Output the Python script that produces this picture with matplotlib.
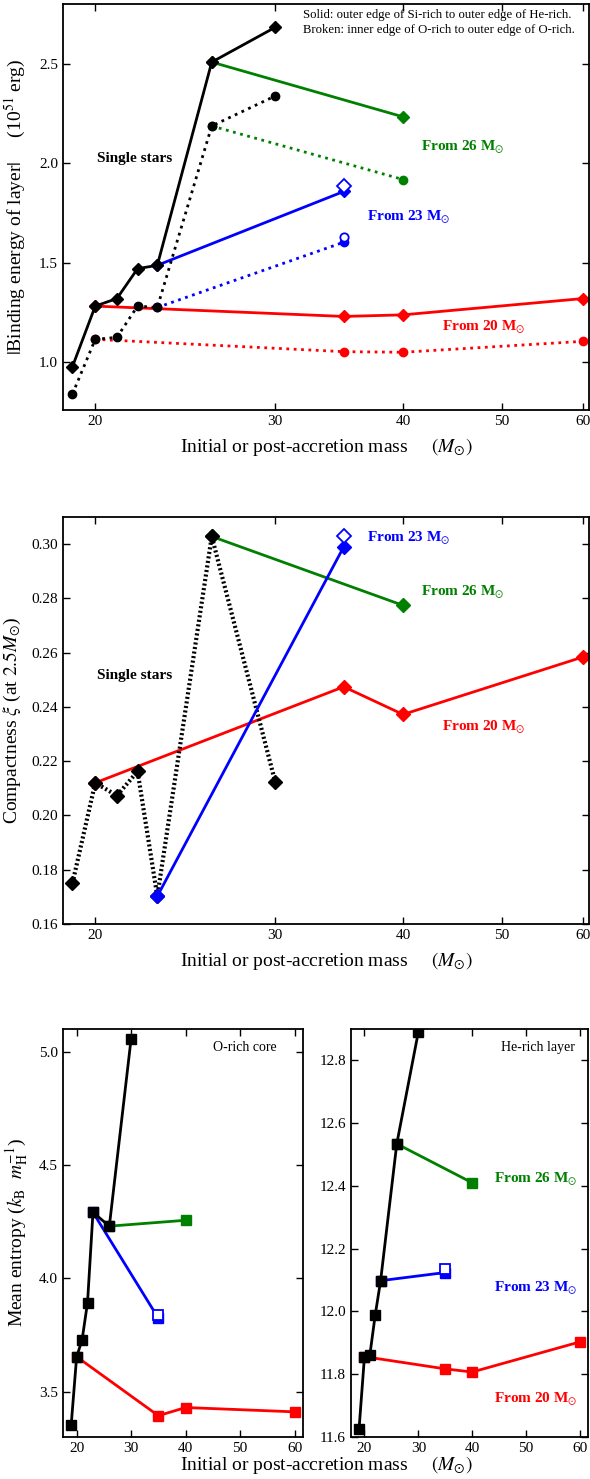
import numpy as np
import matplotlib
matplotlib.use("Agg")
import matplotlib.pyplot as plt
from matplotlib.ticker import FixedLocator, FixedFormatter, NullLocator

plt.rcParams['font.family'] = 'serif'
plt.rcParams['font.serif'] = ['Liberation Serif', 'DejaVu Serif']
plt.rcParams['mathtext.fontset'] = 'stix'
plt.rcParams['xtick.direction'] = 'in'
plt.rcParams['ytick.direction'] = 'in'
plt.rcParams['xtick.top'] = True
plt.rcParams['ytick.right'] = True
plt.rcParams['axes.linewidth'] = 1.3

# Massa bintang tunggal dan massa setelah akresi
single_mass = [19, 20, 21, 22, 23, 26, 30]
from20_mass = [20, 35, 40, 60]
from23_mass = [23, 35]
from26_mass = [26, 40]
open_mass = [35]

# Panel 1: |binding energy| (10^51 erg)
eb_solid_single = [0.978, 1.282, 1.32, 1.47, 1.487, 2.508, 2.683]
eb_broken_single = [0.84, 1.115, 1.125, 1.282, 1.275, 2.187, 2.338]
eb_solid_20 = [1.282, 1.23, 1.238, 1.32]
eb_broken_20 = [1.115, 1.053, 1.05, 1.105]
eb_solid_23 = [1.487, 1.858]
eb_broken_23 = [1.275, 1.603]
eb_solid_23_open = [1.885]
eb_broken_23_open = [1.628]
eb_solid_26 = [2.508, 2.233]
eb_broken_26 = [2.187, 1.918]

# Panel 2: compactness
xi_single = [0.175, 0.212, 0.2073, 0.2162, 0.1702, 0.3028, 0.2122]
xi_20 = [0.212, 0.2474, 0.2372, 0.2584]
xi_23 = [0.1702, 0.299]
xi_23_open = [0.303]
xi_26 = [0.3028, 0.2774]

# Panel 3: entropi O-rich core
so_single = [3.353, 3.654, 3.728, 3.893, 4.291, 4.23, 5.057]
so_20 = [3.654, 3.394, 3.43, 3.411]
so_23 = [4.291, 3.824]
so_23_open = [3.836]
so_26 = [4.23, 4.256]

# Panel 4: entropi He-rich layer
she_single = [11.626, 11.856, 11.861, 11.989, 12.098, 12.534, 12.89]
she_20 = [11.856, 11.817, 11.807, 11.903]
she_23 = [12.098, 12.124]
she_23_open = [12.135]
she_26 = [12.534, 12.41]

mass_ticks = [20, 30, 40, 50, 60]
mass_labels = ['20', '30', '40', '50', '60']
xlabel = r'Initial or post-accretion mass     $\left(M_{\odot}\right)$'
msun = r'$_{\odot}$'

fig = plt.figure(figsize=(5.9, 14.79), dpi=100)

ax1 = fig.add_axes([0.1068, 0.7228, 0.8915, 0.2745])
ax2 = fig.add_axes([0.1068, 0.3753, 0.8915, 0.2752])
ax3 = fig.add_axes([0.1068, 0.0284, 0.4063, 0.2759])
ax4 = fig.add_axes([0.5949, 0.0284, 0.4017, 0.2759])


def log_mass_axis(ax):
    ax.set_xscale('log')
    ax.set_xlim(18.6, 60.8)
    ax.xaxis.set_major_locator(FixedLocator(mass_ticks))
    ax.xaxis.set_major_formatter(FixedFormatter(mass_labels))
    ax.xaxis.set_minor_locator(NullLocator())
    ax.tick_params(which='major', length=5, width=1, labelsize=11)
    ax.set_xlabel(xlabel, fontsize=14, labelpad=6)


# ---------- Panel 1 ----------
ax1.plot(from20_mass, eb_solid_20, '-', color='red', lw=2, marker='D', ms=6)
ax1.plot(from20_mass, eb_broken_20, ':', color='red', lw=2, marker='o', ms=6)
ax1.plot(from23_mass, eb_solid_23, '-', color='blue', lw=2, marker='D', ms=6)
ax1.plot(from23_mass, eb_broken_23, ':', color='blue', lw=2, marker='o', ms=6)
ax1.plot(open_mass, eb_solid_23_open, 'D', mfc='white', mec='blue', mew=1.3, ms=7)
ax1.plot(open_mass, eb_broken_23_open, 'o', mfc='white', mec='blue', mew=1.3, ms=6)
ax1.plot(from26_mass, eb_solid_26, '-', color='green', lw=2, marker='D', ms=6)
ax1.plot(from26_mass, eb_broken_26, ':', color='green', lw=2, marker='o', ms=6)
ax1.plot(single_mass, eb_solid_single, '-', color='black', lw=2, marker='D', ms=6)
ax1.plot(single_mass, eb_broken_single, ':', color='black', lw=2, marker='o', ms=6)

log_mass_axis(ax1)
ax1.set_ylim(0.76, 2.8)
ax1.set_yticks([1.0, 1.5, 2.0, 2.5])
ax1.set_yticklabels(['1.0', '1.5', '2.0', '2.5'])
ax1.set_ylabel(r'$|$Binding energy of layer$|$     (10$^{51}$ erg)', fontsize=14, labelpad=8)
ax1.text(36.9, 1.73, 'From 23 M' + msun, color='blue', fontsize=11, fontweight='bold', va='center')
ax1.text(41.65, 2.078, 'From 26 M' + msun, color='green', fontsize=11, fontweight='bold', va='center')
ax1.text(43.7, 1.173, 'From 20 M' + msun, color='red', fontsize=11, fontweight='bold', va='center')
ax1.text(20.1, 2.025, 'Single stars', color='black', fontsize=11, fontweight='bold', va='center')
ax1.text(0.456, 0.955, 'Solid: outer edge of Si-rich to outer edge of He-rich.\n'
         'Broken: inner edge of O-rich to outer edge of O-rich.',
         transform=ax1.transAxes, fontsize=9.2, va='center', ha='left', linespacing=1.35)

# ---------- Panel 2 ----------
ax2.plot(from20_mass, xi_20, '-', color='red', lw=2, marker='D', ms=7)
ax2.plot(from26_mass, xi_26, '-', color='green', lw=2, marker='D', ms=7)
ax2.plot(single_mass, xi_single, color='black', lw=3, dashes=(0.5, 0.6),
         dash_capstyle='butt', marker='D', ms=7)
ax2.plot(from23_mass, xi_23, '-', color='blue', lw=2, marker='D', ms=7)
ax2.plot(open_mass, xi_23_open, 'D', mfc='white', mec='blue', mew=1.3, ms=7)

log_mass_axis(ax2)
ax2.set_ylim(0.16, 0.31)
ax2.set_yticks([0.16, 0.18, 0.20, 0.22, 0.24, 0.26, 0.28, 0.30])
ax2.set_yticklabels(['0.16', '0.18', '0.20', '0.22', '0.24', '0.26', '0.28', '0.30'])
ax2.set_ylabel(r'Compactness $\xi$ (at $2.5M_{\odot}$)', fontsize=14, labelpad=6)
ax2.text(36.9, 0.3022, 'From 23 M' + msun, color='blue', fontsize=11, fontweight='bold', va='center')
ax2.text(41.65, 0.2823, 'From 26 M' + msun, color='green', fontsize=11, fontweight='bold', va='center')
ax2.text(43.7, 0.2324, 'From 20 M' + msun, color='red', fontsize=11, fontweight='bold', va='center')
ax2.text(20.1, 0.2516, 'Single stars', color='black', fontsize=11, fontweight='bold', va='center')

# ---------- Panel 3 & 4 ----------
for ax, s_single, s20, s23, s23o, s26 in [
        (ax3, so_single, so_20, so_23, so_23_open, so_26),
        (ax4, she_single, she_20, she_23, she_23_open, she_26)]:
    ax.plot(from20_mass, s20, '-', color='red', lw=2, marker='s', ms=7)
    ax.plot(from23_mass, s23, '-', color='blue', lw=2, marker='s', ms=7)
    ax.plot(open_mass, s23o, 's', mfc='white', mec='blue', mew=1.3, ms=7)
    ax.plot(from26_mass, s26, '-', color='green', lw=2, marker='s', ms=7)
    ax.plot(single_mass, s_single, '-', color='black', lw=2, marker='s', ms=7)
    ax.set_xlim(17.5, 61.5)
    ax.set_xticks(mass_ticks)
    ax.set_xticklabels(mass_labels)
    ax.tick_params(which='major', length=5, width=1, labelsize=11)

ax3.set_ylim(3.3, 5.1)
ax3.set_yticks([3.5, 4.0, 4.5, 5.0])
ax3.set_yticklabels(['3.5', '4.0', '4.5', '5.0'])
ax3.set_ylabel(r'Mean entropy ($k_{\rm B}$  $m_{\rm H}^{-1}$)', fontsize=14, labelpad=6)
ax3.text(0.89, 0.955, 'O-rich core', transform=ax3.transAxes, fontsize=10, ha='right', va='center')

ax4.set_ylim(11.6, 12.9)
ax4.set_yticks([11.6, 11.8, 12.0, 12.2, 12.4, 12.6, 12.8])
ax4.set_yticklabels(['11.6', '11.8', '12.0', '12.2', '12.4', '12.6', '12.8'])
ax4.text(0.945, 0.955, 'He-rich layer', transform=ax4.transAxes, fontsize=10, ha='right', va='center')
ax4.text(44, 12.42, 'From 26 M' + msun, color='green', fontsize=11, fontweight='bold', va='center')
ax4.text(44, 12.072, 'From 23 M' + msun, color='blue', fontsize=11, fontweight='bold', va='center')
ax4.text(44, 11.72, 'From 20 M' + msun, color='red', fontsize=11, fontweight='bold', va='center')

fig.text(326 / 590, 1 - 1465 / 1479, xlabel, fontsize=14, ha='center', va='center')

plt.savefig('out.png', dpi=100)
